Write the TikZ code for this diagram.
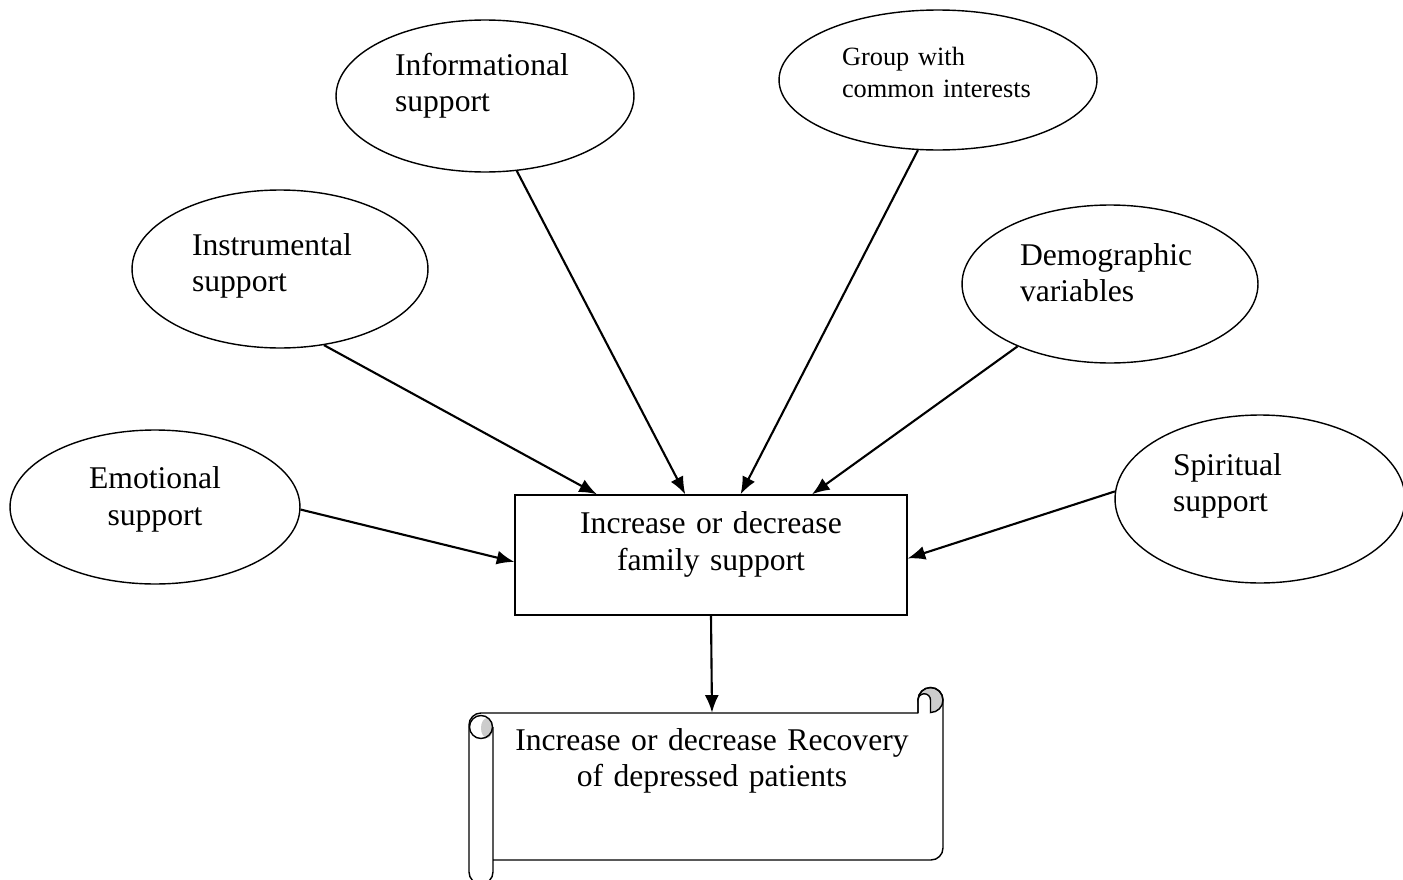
\documentclass[tikz,border=0pt]{standalone}
\usepackage{fontspec}
\setmainfont{Liberation Serif}
\usetikzlibrary{arrows.meta,shapes.geometric}

\begin{document}
\begin{tikzpicture}[x=0.02cm,y=-0.02cm,>={Latex[length=10pt,width=8pt]},
                    bubble/.style={ellipse,draw,line width=0.8pt,inner sep=0pt,
                      align=left,text height=14pt,font=\fontsize{18}{21}\selectfont},
                    link/.style={->,line width=1.2pt}]

  \useasboundingbox (0,0) rectangle (1403,879);

  	\node[bubble,minimum width=5.8cm,minimum height=3.08cm,text width=2.8cm,
	      align=center,text depth=34.5pt] (emo) at (155,507) {Emotional\\support};
	\node[bubble,minimum width=5.92cm,minimum height=3.16cm,text width=3.52cm,
	      text depth=29.9pt] (ins) at (280,269) {Instrumental\\support};
	\node[bubble,minimum width=5.96cm,minimum height=3.04cm,text width=3.6cm,
	      text depth=37.9pt] (inf) at (485,96) {Informational\\support};
	\node[bubble,minimum width=6.36cm,minimum height=2.8cm,text width=3.84cm,
	      font=\fontsize{15}{18.2}\selectfont,text height=12pt,
	      text depth=29pt] (grp) at (938,80) {Group with\\common interests};
	\node[bubble,minimum width=5.92cm,minimum height=3.16cm,text width=3.6cm,
	      text depth=35.6pt] (dem) at (1110,284) {Demographic\\variables};
	\node[bubble,minimum width=5.8cm,minimum height=3.36cm,text width=3.48cm,
	      text depth=41.3pt] (spi) at (1260,499) {Spiritual\\support};

	\node[draw,line width=0.8pt,minimum width=7.84cm,minimum height=2.4cm,inner sep=0pt,
	      text width=6.5cm,align=center,text height=14pt,text depth=38pt,
	      font=\fontsize{18}{21}\selectfont] (box) at (711,555)
	      {Increase or decrease\\family support};

	\node[minimum width=9cm,minimum height=2.94cm,inner sep=0pt,
	      text width=8.5cm,align=center,text height=14pt,text depth=55.5pt,
	      font=\fontsize{18}{21}\selectfont] (rec) at (712,786.5)
	      {Increase or decrease Recovery\\of depressed patients};

  % scroll outline
	\filldraw[fill=gray!40,line width=0.8pt] (930.5,700) circle (12.5);
	\filldraw[fill=white,line width=0.8pt] (918,713) -- (918,700)
	      arc[start angle=180,end angle=360,radius=6.25] -- (930.5,713);
	\fill[gray!40] (487,728) ellipse[x radius=6,y radius=10];
	\draw[line width=0.8pt] (481,727) circle (11.5);
	\draw[line width=0.8pt,line join=round] (493,860) -- (931,860)
	      arc[start angle=90,end angle=0,radius=12] -- (943,700)
	      arc[start angle=0,end angle=-180,radius=12.5] -- (918,713) -- (481,713)
	      arc[start angle=270,end angle=180,radius=12] -- (469,872)
	      arc[start angle=180,end angle=0,radius=12] -- (493,727);

  	\path[link] (emo.-1.6)   edge (box.182.9)
	            (ins.-60)    edge (box.152.9)
	            (inf.-67.7)  edge (box.113.1)
	            (grp.-106.4) edge (box.64.6)
	            (dem.-146.7) edge (box.31.6)
	            (spi.177.7)  edge (box.-1.5)
	            (box.south)  edge (rec.north);

\end{tikzpicture}
\end{document}
